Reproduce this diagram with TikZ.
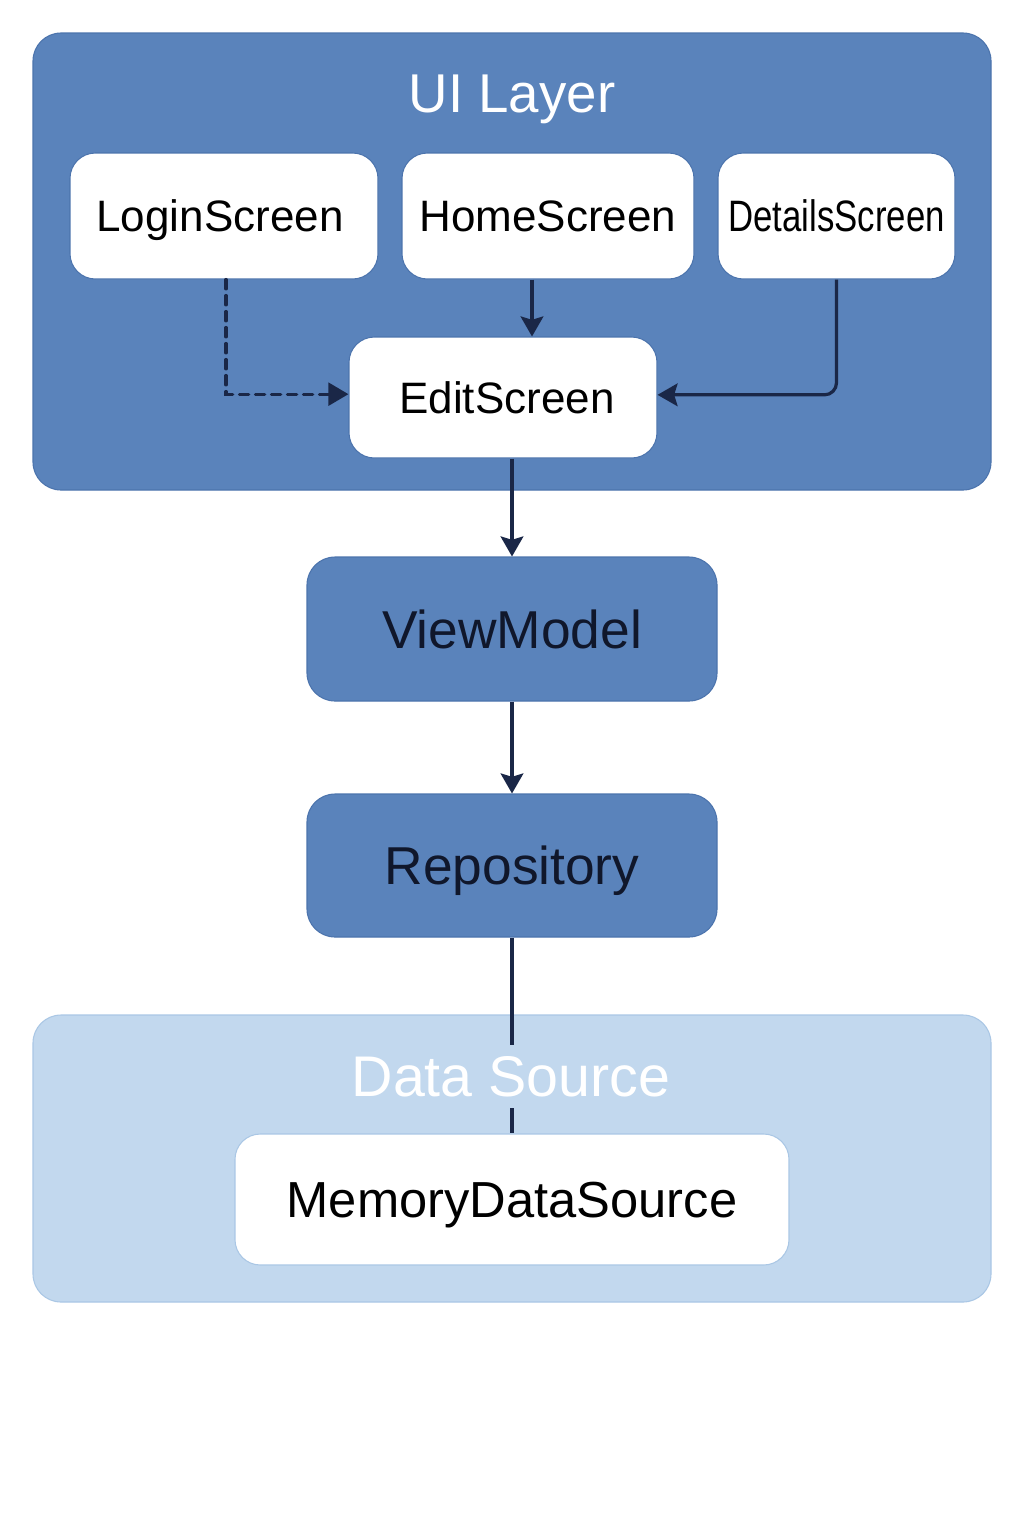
\documentclass[tikz,border=0pt]{standalone}
\usepackage{fontspec}
\setmainfont{Liberation Sans}
\usepackage{graphicx}
\usetikzlibrary{arrows.meta,calc}
\definecolor{uiblue}{HTML}{5A83BB}
\definecolor{uiedge}{HTML}{4C74AD}
\definecolor{dsblue}{HTML}{C2D8EE}
\definecolor{dsedge}{HTML}{AAC7E5}
\definecolor{navy}{HTML}{1A2747}
\tikzset{
  x=0.75pt, y=-0.75pt,
  layer/.style={rounded corners=21pt, inner sep=0pt},
  whitebox/.style={draw=uiedge, line width=0.8pt, fill=white, rounded corners=19pt, inner sep=0pt, font=\fontsize{33}{36}\selectfont, text=black, text height=23.6pt, text depth=0pt},
  bluebox/.style={draw=uiedge, line width=0.8pt, fill=uiblue, rounded corners=21pt, inner sep=0pt, font=\fontsize{40}{44}\selectfont, text=navy!60!black, text height=28.6pt, text depth=0pt},
  conn/.style={draw=navy, line width=2.4pt},
  arr/.style={conn, -{Stealth[length=15pt,width=17pt,inset=2.5pt]}},
  dasharr/.style={conn, dash pattern=on 7pt off 5pt, line cap=round, -{Triangle[length=15pt,width=17pt]}}
}
\begin{document}
\begin{tikzpicture}
\useasboundingbox[fill=white] (0,0) rectangle (1024,1536);
% UI layer
\node[layer, draw=uiedge, line width=0.8pt, fill=uiblue, minimum width=718.5pt, minimum height=342.75pt] (ui) at (512,261.5) {};
\node[text=white, font=\fontsize{41}{44}\selectfont, text height=29.4pt, text depth=0pt, inner sep=0pt] (uititle) at (512,93) {UI Layer};
\node[whitebox, minimum width=231pt, minimum height=94.5pt] (login) at (224,216) {\hspace*{-6pt}LoginScreen};
\node[whitebox, minimum width=219pt, minimum height=94.5pt] (home) at (548,216) {HomeScreen};
\node[whitebox, minimum width=177.75pt, minimum height=94.5pt] (details) at (836.5,216) {\scalebox{0.79}[1]{DetailsScreen}};
\node[whitebox, minimum width=231pt, minimum height=90.75pt] (edit) at (503,397.5) {\hspace*{6pt}EditScreen};
% connectors in UI
\draw[arr] ([xshift=-12pt]home.south) -- ([xshift=-12pt]home.south |- edit.north);
\draw[dasharr] ([xshift=1.5pt]login.south) |- ([yshift=2.5pt]edit.west);
\draw[arr, rounded corners=9pt] (details.south) |- ([yshift=2pt]edit.east);
% middle
\node[bluebox, minimum width=307.5pt, minimum height=108pt] (vm) at (512,629) {ViewModel};
\node[bluebox, minimum width=307.5pt, minimum height=107.25pt] (repo) at (512,865.5) {Repository};
\draw[arr] ([xshift=6.75pt]edit.south) -- (vm.north);
\draw[arr] (vm.south) -- (repo.north);
% data source
\node[layer, draw=dsedge, line width=0.8pt, fill=dsblue, minimum width=718.5pt, minimum height=215.25pt] (ds) at (512,1158.5) {};
\node[text=white, font=\fontsize{43}{46}\selectfont, text height=30.8pt, text depth=0pt, inner sep=0pt] (dstitle) at (511,1076) {Data Source};
\node[whitebox, draw=dsedge, minimum width=415.5pt, minimum height=98.25pt, font=\fontsize{38}{42}\selectfont, text height=27.2pt] (mem) at (512,1199.5) {MemoryDataSource};
\coordinate (gaptop) at (512,1045);
\coordinate (gapbot) at (512,1108);
\draw[conn] (repo.south) -- (gaptop);
\draw[conn] (gapbot) -- (mem.north);
\end{tikzpicture}
\end{document}
